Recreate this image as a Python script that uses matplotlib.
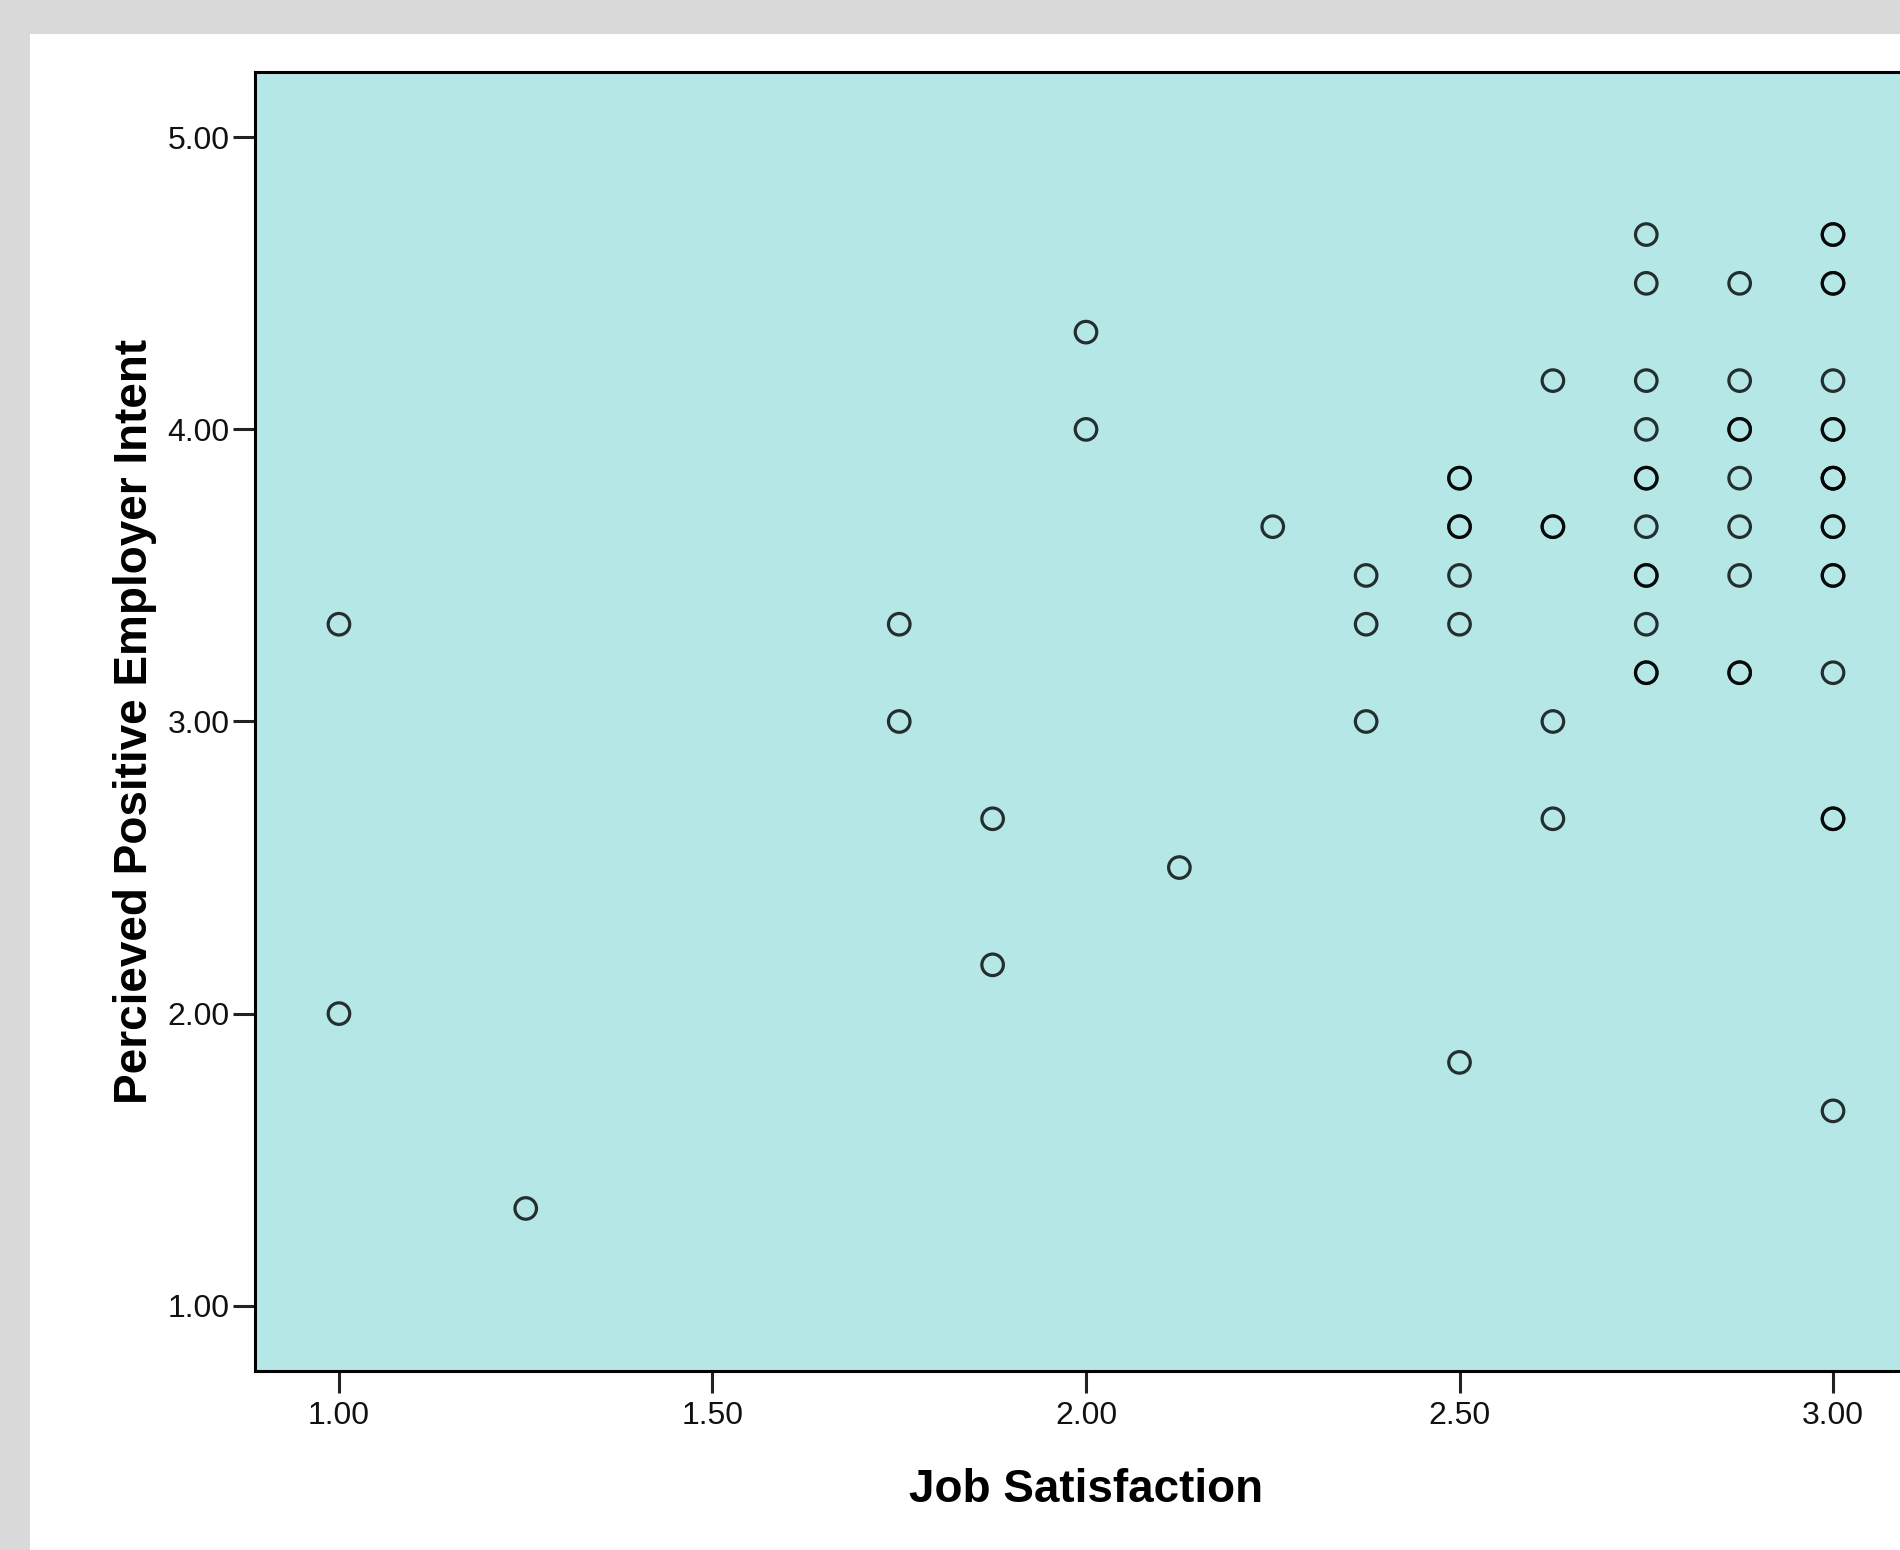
import matplotlib
matplotlib.use("Agg")
import matplotlib.pyplot as plt
from matplotlib.patches import Rectangle

# Job satisfaction (x) vs perceived positive employer intent (y), one entry per case.
# Repeated pairs are cases that sit on top of each other (drawn darker).
job_satisfaction = (
    [1.00] * 2
    + [1.25]
    + [1.75] * 2
    + [1.875] * 2
    + [2.00] * 2
    + [2.125]
    + [2.25]
    + [2.375] * 3
    + [2.50] * 7
    + [2.625] * 5
    + [2.75] * 12
    + [2.875] * 9
    + [3.00] * 18
)
employer_intent = [
    3.333, 2.000,
    1.333,
    3.333, 3.000,
    2.667, 2.167,
    4.333, 4.000,
    2.500,
    3.667,
    3.500, 3.333, 3.000,
    3.833, 3.833, 3.667, 3.667, 3.500, 3.333, 1.833,
    4.167, 3.667, 3.667, 3.000, 2.667,
    4.667, 4.500, 4.167, 4.000, 3.833, 3.833, 3.667, 3.500, 3.500, 3.333, 3.167, 3.167,
    4.500, 4.167, 4.000, 4.000, 3.833, 3.667, 3.500, 3.167, 3.167,
    4.667, 4.667, 4.500, 4.500, 4.167, 4.000, 4.000, 3.833, 3.833, 3.833, 3.667, 3.667,
    3.500, 3.500, 3.167, 2.667, 2.667, 1.667,
]

x_ticks = [1.00, 1.50, 2.00, 2.50, 3.00]
y_ticks = [1.00, 2.00, 3.00, 4.00, 5.00]

fig = plt.figure(figsize=(19, 15.5), dpi=100, facecolor="#d9d9d9")
# white chart panel inside the grey frame
fig.patches.append(Rectangle((30 / 1900, 0), 1, 1 - 34 / 1550, transform=fig.transFigure,
                             facecolor="white", edgecolor="none", zorder=-10))

ax = fig.add_axes([255 / 1900, 179 / 1550, 1662 / 1900, 1299 / 1550])
ax.set_facecolor("#b6e7e7")
ax.scatter(job_satisfaction, employer_intent, s=240, facecolors="none",
           edgecolors=(0, 0, 0, 0.8), linewidths=2.3, zorder=3)

ax.set_xlim(0.8876, 3.1124)
ax.set_ylim(0.7765, 5.2235)
ax.set_xticks(x_ticks)
ax.set_yticks(y_ticks)
ax.set_xticklabels([f"{v:.2f}" for v in x_ticks])
ax.set_yticklabels([f"{v:.2f}" for v in y_ticks])

for side in ax.spines.values():
    side.set_linewidth(2.2)
    side.set_color("black")

ax.tick_params(axis="both", direction="out", length=15.8, width=2.2, color="#222222",
               labelsize=23, labelcolor="#111111")
ax.tick_params(axis="x", pad=5.5)
ax.tick_params(axis="y", pad=2.5)
for lab in ax.get_xticklabels() + ax.get_yticklabels():
    lab.set_family("Liberation Sans")

ax.set_xlabel("Job Satisfaction", fontsize=33, fontweight="bold", family="Liberation Sans")
ax.set_ylabel("Percieved Positive Employer Intent", fontsize=33, fontweight="bold",
              family="Liberation Sans")
ax.xaxis.label.set_va("baseline")
ax.yaxis.label.set_va("baseline")
ax.xaxis.set_label_coords(0.5, -0.1008)
ax.yaxis.set_label_coords(-0.0651, 0.5)

fig.savefig("out.png", dpi=100, facecolor=fig.get_facecolor())
